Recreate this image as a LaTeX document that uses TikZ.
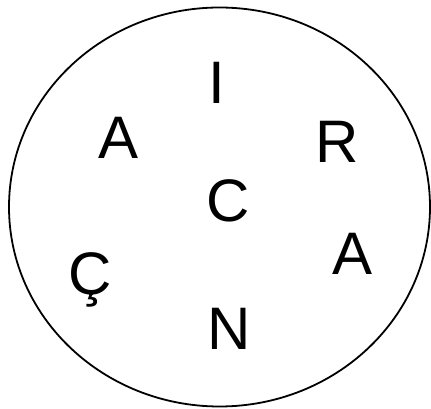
\documentclass[tikz,border=0pt]{standalone}
\usepackage{fontspec}
\setmainfont{Liberation Sans}
\usepackage{tikz}
\usetikzlibrary{shapes.geometric}
\tikzset{
  ring/.style={draw,ellipse,line width=1.8pt,inner sep=0pt,minimum width=421pt,minimum height=399pt},
  letter/.style={anchor=base,inner sep=0pt,font=\fontsize{60}{72}\selectfont},
}
\begin{document}
\begin{tikzpicture}[x=1pt,y=1pt]
\useasboundingbox (0,0) rectangle (431,409);
\node[ring] (rim) at (219.5,202) {};
\node[letter] (li) at (217,305) {I};
\node[letter] (la) at (118.5,250) {A};
\node[letter] (lr) at (337.5,246) {R};
\node[letter] (lc) at (228,187.5) {C};
\node[letter] (lcc) at (90,114) {Ç};
\node[letter] (lb) at (352.5,134) {A};
\node[letter] (ln) at (229,59) {N};
\end{tikzpicture}
\end{document}
